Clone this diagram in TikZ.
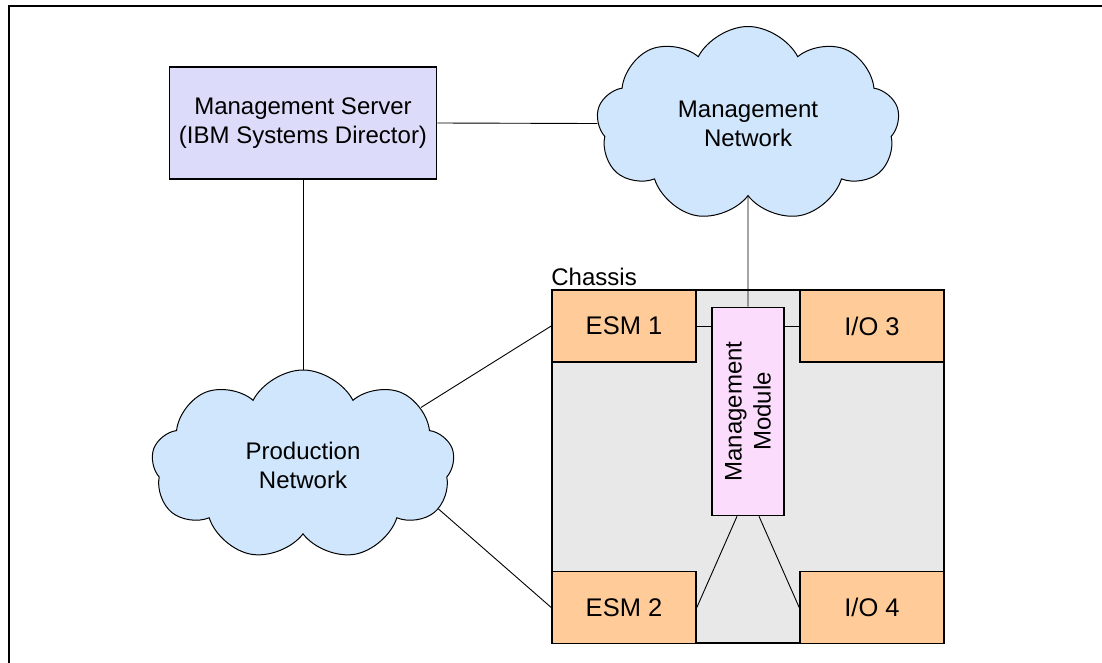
\documentclass[tikz,border=0pt]{standalone}
\usepackage{fontspec}
\setmainfont{Liberation Sans}
\usepackage{tikz}
\usetikzlibrary{positioning, shapes.symbols, calc}
\definecolor{serverfill}{RGB}{220,220,250}
\definecolor{cloudfill}{RGB}{208,230,252}
\definecolor{chassisfill}{RGB}{232,232,232}
\definecolor{bayfill}{RGB}{255,204,153}
\definecolor{mmfill}{RGB}{252,220,252}

\begin{document}
\begin{tikzpicture}[x=1pt, y=-1pt,
    every node/.style={font=\fontsize{24}{29}\selectfont},
    server/.style={rectangle, draw, line width=1.6pt, fill=serverfill,
                   minimum width=267pt, minimum height=112pt, align=center},
    netcloud/.style={cloud, cloud puffs=9, cloud puff arc=125, aspect=1.5,
                     draw, line width=1pt, fill=cloudfill, align=center,
                     minimum width=303pt, minimum height=195pt},
    chassisbox/.style={rectangle, draw, line width=1.6pt, fill=chassisfill,
                       minimum width=392pt, minimum height=353pt},
    bay/.style={rectangle, draw, line width=1.6pt, fill=bayfill,
                minimum width=144pt, minimum height=72pt,
                font=\fontsize{25.5}{30}\selectfont},
    mmodule/.style={rectangle, draw, line width=1.6pt, fill=mmfill, rotate=90,
                    minimum width=208pt, minimum height=72pt, align=center},
    link/.style={line width=0.9pt}
]
\useasboundingbox (0,0) rectangle (1102,663);
\draw[line width=1.5pt] (9,663) -- (9,6) -- (1102,6);

% servers and networks
\node[server] (srv) at (303,123) {Management Server\\(IBM Systems Director)};
\node[netcloud] (mgmt) at (748,124) {Management\\Network};
\node[netcloud, minimum height=190pt] (prod) at (303,465) {Production\\Network};

% chassis
\node[chassisbox] (chassis) at (748,466.5) {};
\node[above right=3pt and 0pt of chassis.north west, inner sep=0pt] (chlabel) {Chassis};
\node[bay] (esm1) at (624,326) {ESM 1};
\node[bay] (io3) at (872,326) {I/O 3};
\node[bay] (esm2) at (624,607.5) {ESM 2};
\node[bay] (io4) at (872,607.5) {I/O 4};
\node[mmodule] (mm) at (748,411.5) {Management\\Module};

% links
\draw[link] (srv.east) -- (mgmt);
\draw[link] (srv) -- (prod);
\draw[link] (mgmt) -- (mm.east);
\draw[link] (prod.26) -- (esm1.west);
\draw[link] (prod.-18) -- (esm2.west);
\draw[link] (esm1.east) -- (esm1.east -| mm.north);
\draw[link] (io3.west) -- (io3.west -| mm.south);
\draw[link] ([xshift=-11pt]mm.west) -- (esm2.east);
\draw[link] ([xshift=11pt]mm.west) -- (io4.west);
\end{tikzpicture}
\end{document}
